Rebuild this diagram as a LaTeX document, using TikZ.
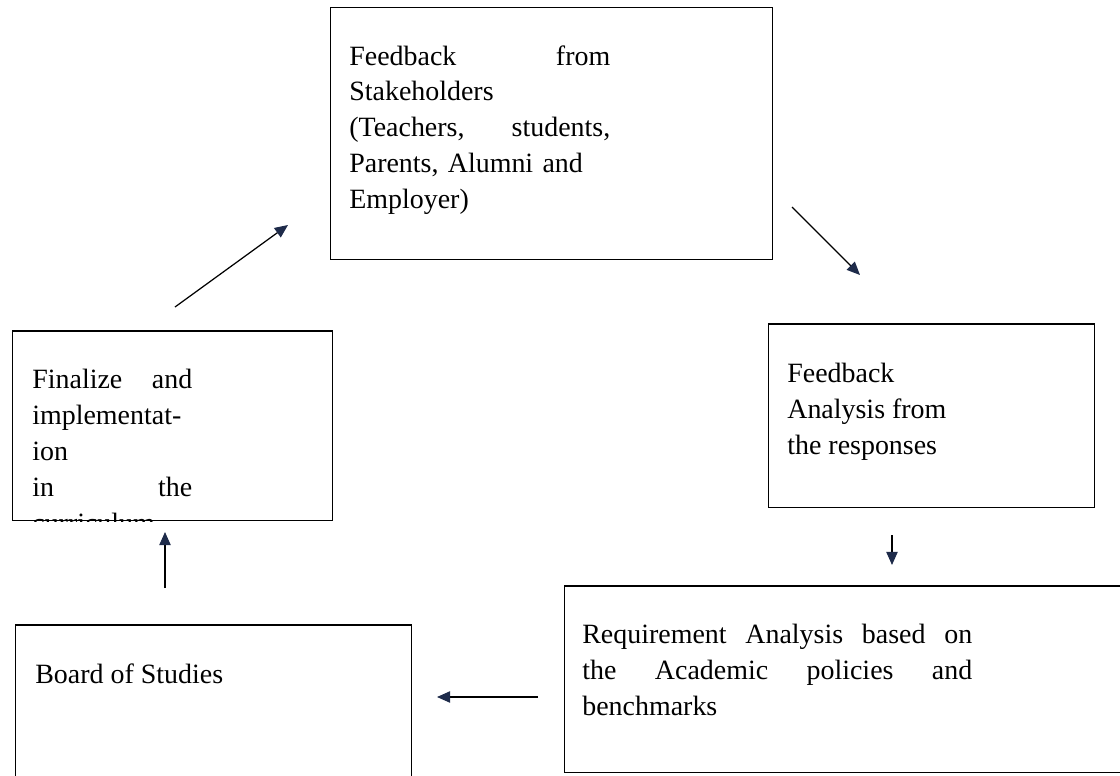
\documentclass[tikz,border=0pt]{standalone}
\usepackage{fontspec}
\setmainfont{Liberation Serif}
\usetikzlibrary{arrows.meta,positioning}
\definecolor{tipblue}{HTML}{1E2B4A}
\tikzset{
  box/.style={draw, line width=0.85pt, anchor=north west, inner sep=0pt},
  txt/.style={anchor=north west, inner sep=0pt, align=left,
    font=\fontsize{15.9}{20.4}\selectfont},
  flow/.style={line width=0.7pt, -{Triangle[length=7.5pt,width=6.5pt,color=tipblue]}}
}

\begin{document}
\begin{tikzpicture}[x=0.02cm,y=-0.02cm]
    \useasboundingbox (0,0) rectangle (1120,775);
    \clip (0,0) rectangle (1120,775);

    \node[box, minimum width=8.84cm, minimum height=5.04cm] (stake) at (330,7) {};
    \node[box, minimum width=6.52cm, minimum height=3.68cm] (analysis) at (768,323) {};
    \node[box, minimum width=11.32cm, minimum height=3.74cm] (require) at (564,585) {};
    \node[box, minimum width=7.92cm, minimum height=3.4cm] (board) at (15,624) {};
    \node[box, minimum width=6.4cm, minimum height=3.8cm] (finalize) at (12,330) {};

    \node[txt, text width=5.22cm] (stake-txt) at ([shift={(19,38)}]stake.north west)
        {Feedback\hfill from\\ Stakeholders\\ (Teachers,\hfill students,\\
         Parents, Alumni and\\ Employer)};
    \node[txt] (analysis-txt) at ([shift={(19,40)}]analysis.north west)
        {Feedback\\ Analysis from\\ the responses};
    \node[txt, text width=7.8cm] (require-txt) at ([shift={(18,39)}]require.north west)
        {Requirement\hfill Analysis\hfill based\hfill on\\
         the\hfill Academic\hfill policies\hfill and\\ benchmarks};
    \node[txt] (board-txt) at ([shift={(20,39)}]board.north west) {Board of Studies};
    \begin{scope}
        \clip (finalize.north west) rectangle (finalize.south east);
        \node[txt, text width=3.2cm] (finalize-txt) at ([shift={(20,39)}]finalize.north west)
            {Finalize\hfill and\\ implementat-\\ ion\\ in\hfill the\\ curriculum};
    \end{scope}

    \coordinate (fin-out) at (175,307);
    \coordinate (stake-in) at (288,225);
    \coordinate (stake-out) at (792,207);
    \coordinate (analysis-in) at (860,275);
    \coordinate (analysis-out) at (892,535);
    \coordinate (require-in) at (892,565);
    \coordinate (require-out) at (538,697);
    \coordinate (board-in) at (437,697);
    \coordinate (board-out) at (165,588);
    \coordinate (fin-in) at (165,532);

    \draw[flow] (fin-out) -- (stake-in);
    \draw[flow] (stake-out) -- (analysis-in);
    \draw[flow] (analysis-out) -- (require-in);
    \draw[flow] (require-out) -- (board-in);
    \draw[flow] (board-out) -- (fin-in);
\end{tikzpicture}
\end{document}
